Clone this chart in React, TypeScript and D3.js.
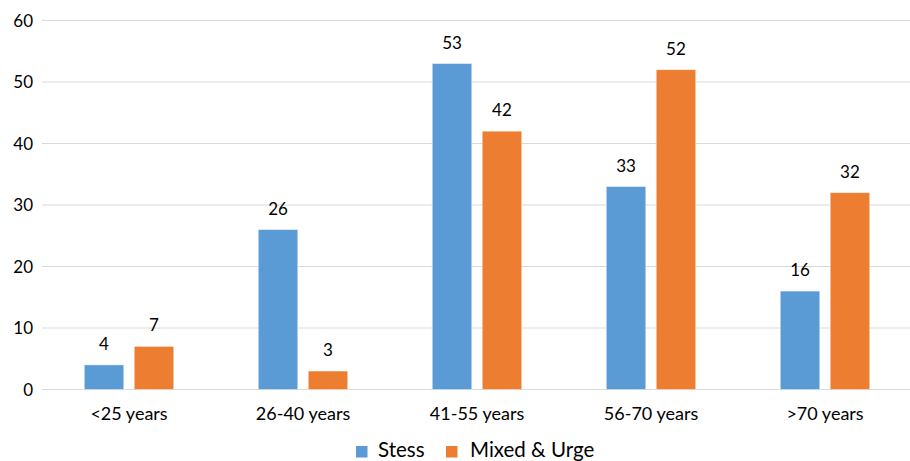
import React from "react";
import * as d3 from "d3";

const categories = ["<25 years", "26-40 years", "41-55 years", "56-70 years", ">70 years"];
const seriesNames = ["Stess", "Mixed & Urge"];
const stress = [4, 26, 53, 33, 16];
const mixedUrge = [7, 3, 42, 52, 32];
const yTicks = [0, 10, 20, 30, 40, 50, 60];
const colors = ["#5B9BD5", "#ED7D31"];

const W = 910;
const H = 461;
const margin = { left: 42, right: -2, top: 20.5, bottom: 71.5 };
const FONT = "Lato, 'Open Sans', sans-serif";

export default function App() {
  const x = d3
    .scaleBand<string>()
    .domain(categories)
    .range([margin.left, W - margin.right])
    .paddingInner(0.486)
    .paddingOuter(0.243);
  const inner = d3.scaleBand<number>().domain([0, 1]).range([0, x.bandwidth()]).paddingInner(0.21);
  const y = d3.scaleLinear().domain([0, 60]).range([H - margin.bottom, margin.top]);
  const series = [stress, mixedUrge];
  const groupCenter = (c: string) => (x(c) as number) + x.bandwidth() / 2;

  return (
    <svg width={W} height={H} style={{ position: "absolute", left: 0, top: 0, background: "#fff" }} fontFamily={FONT}>
      {yTicks.map((t) => (
        <g key={t}>
          <line x1={margin.left} x2={W} y1={y(t)} y2={y(t)} stroke="#D9D9D9" strokeWidth={1.2} />
          <text x={33} y={y(t)} dy="0.36em" textAnchor="end" fontSize={17} fill="#000">
            {t}
          </text>
        </g>
      ))}
      {categories.map((c, i) => (
        <g key={c}>
          {series.map((s, k) => {
            const bx = (x(c) as number) + (inner(k) as number);
            const bw = inner.bandwidth();
            return (
              <g key={k}>
                <rect x={bx} y={y(s[i])} width={bw} height={y(0) - y(s[i])} fill={colors[k]} stroke="#fff" strokeOpacity={0.5} strokeWidth={0.8} />
                <text x={bx + bw / 2} y={y(s[i]) - 15} textAnchor="middle" fontSize={17} fill="#000">
                  {s[i]}
                </text>
              </g>
            );
          })}
          <text x={groupCenter(c)} y={420} textAnchor="middle" fontSize={18} fill="#000">
            {c}
          </text>
        </g>
      ))}
      <g>
        <rect x={356} y={446} width={11.5} height={11.5} fill={colors[0]} />
        <text x={378} y={457} fontSize={20.5} fill="#000">
          {seriesNames[0]}
        </text>
        <rect x={446} y={446} width={11.5} height={11.5} fill={colors[1]} />
        <text x={470} y={457} fontSize={20.5} fill="#000">
          {seriesNames[1]}
        </text>
      </g>
    </svg>
  );
}
